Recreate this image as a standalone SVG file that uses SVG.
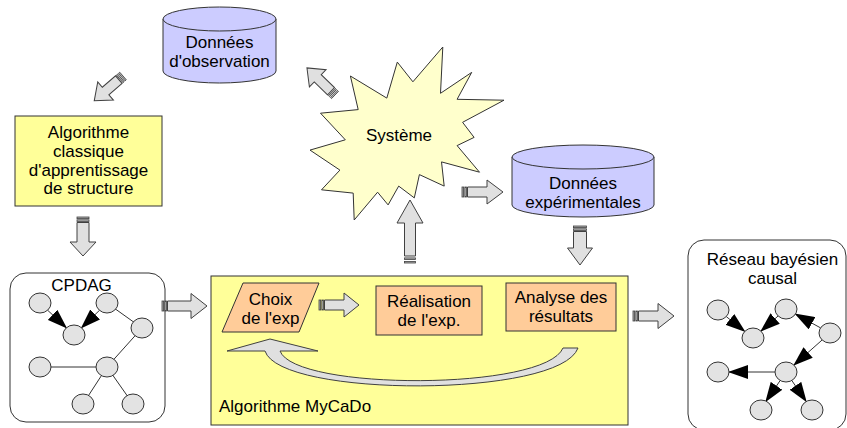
<svg xmlns="http://www.w3.org/2000/svg" width="847" height="428" viewBox="0 0 847 428">
<style>
  text { font-family: "Liberation Sans", Arial, sans-serif; font-size: 17px; fill: #000; }
  .c { text-anchor: middle; }
  .ln { stroke: #333; stroke-width: 1; fill: none; }
  .cyl { fill: #CCCCFF; stroke: #333; stroke-width: 1; }
  .yel { fill: #FFFF99; stroke: #333; stroke-width: 1; }
  .org { fill: #FFCC99; stroke: #333; stroke-width: 1; }
  .rbox { fill: #FFFFFF; stroke: #333; stroke-width: 1; }
  .star { fill: #FFFFCC; stroke: #333; stroke-width: 1; }
  .node { fill: #E3E3E3; stroke: #333; stroke-width: 1; }
  .barrow { fill: #E0E0E0; stroke: #404040; stroke-width: 1; }
  .stripe { fill: #B0B0B0; stroke: #404040; stroke-width: 0.8; }
</style>
<defs>
  <marker id="tri" markerUnits="userSpaceOnUse" markerWidth="20" markerHeight="14" refX="19" refY="7" orient="auto">
    <path d="M0,0 L20,7 L0,14 Z" fill="#000"/>
  </marker>
</defs>

<g id="donnees-observation">
  <path class="cyl" d="M163,19 V71 A56.5,12 0 0 0 276,71 V19 Z"/>
  <ellipse class="cyl" cx="219.5" cy="19" rx="56.5" ry="12" fill="#D6D6FF"/>
  <text class="c" x="219.5" y="48">Données</text>
  <text class="c" x="219.5" y="67">d'observation</text>
</g>

<g id="systeme">
  <polygon class="star" points="412.9,81.8 442.8,47 440.5,93.3 471.7,72.4 457.1,99.3 504,100.2 462.6,122.3 474.1,137.4 457.1,145.6 479.5,172.2 441.5,161.9 444.2,186.1 419.4,174.6 414.3,197.9 398.7,186.1 388.1,204.9 377.6,192.2 354.2,220 353.2,193.1 321.5,189.8 339.9,170.1 310,150.1 345.3,139.8 320.5,113.2 358.2,109.6 350.4,76 386.8,98.1 397.3,62.1"/>
  <text class="c" x="399" y="141">Système</text>
</g>

<g id="donnees-experimentales">
  <path class="cyl" d="M512,157 V205 A71,12 0 0 0 654,205 V157 Z"/>
  <ellipse class="cyl" cx="583" cy="157" rx="71" ry="12" fill="#D6D6FF"/>
  <text class="c" x="583" y="189">Données</text>
  <text class="c" x="583" y="208">expérimentales</text>
</g>

<g id="algo-classique">
  <rect class="yel" x="15" y="116" width="147" height="90"/>
  <text class="c" x="88.5" y="138">Algorithme</text>
  <text class="c" x="88.5" y="157">classique</text>
  <text class="c" x="88.5" y="175.5">d'apprentissage</text>
  <text class="c" x="88.5" y="194">de structure</text>
</g>

<g id="cpdag">
  <rect class="rbox" x="10" y="273" width="155" height="149" rx="16"/>
  <text class="c" x="81.5" y="290.5">CPDAG</text>
  <line class="ln" x1="107" y1="303" x2="142" y2="328"/>
  <line class="ln" x1="142" y1="328" x2="107" y2="367"/>
  <line class="ln" x1="40" y1="367" x2="107" y2="367"/>
  <line class="ln" x1="107" y1="367" x2="83" y2="404"/>
  <line class="ln" x1="107" y1="367" x2="133" y2="404"/>
  <line class="ln" x1="47.6" y1="310.2" x2="66.4" y2="327.8" marker-end="url(#tri)"/>
  <line class="ln" x1="99.5" y1="310.3" x2="81.5" y2="327.7" marker-end="url(#tri)"/>
  <ellipse class="node" cx="40" cy="303" rx="11" ry="10"/>
  <ellipse class="node" cx="107" cy="303" rx="11" ry="10"/>
  <ellipse class="node" cx="74" cy="335" rx="11" ry="10"/>
  <ellipse class="node" cx="142" cy="328" rx="11" ry="10"/>
  <ellipse class="node" cx="40" cy="367" rx="11" ry="10"/>
  <ellipse class="node" cx="107" cy="367" rx="11" ry="10"/>
  <ellipse class="node" cx="83" cy="404" rx="11" ry="10"/>
  <ellipse class="node" cx="133" cy="404" rx="11" ry="10"/>
</g>

<g id="mycado">
  <rect class="yel" x="211" y="276" width="417" height="149"/>
  <text x="219" y="412">Algorithme MyCaDo</text>
</g>

<g id="choix">
  <polygon class="org" points="243,283 319,283 299,332 222,332"/>
  <text class="c" x="270.5" y="304.5">Choix</text>
  <text class="c" x="270.5" y="324">de l'exp</text>
</g>

<g id="realisation">
  <rect class="org" x="376" y="286" width="106" height="49"/>
  <text class="c" x="429" y="307">Réalisation</text>
  <text class="c" x="429" y="326">de l'exp.</text>
</g>

<g id="analyse">
  <rect class="org" x="506" y="283" width="110" height="48"/>
  <text class="c" x="561" y="302.5">Analyse des</text>
  <text class="c" x="561" y="321.5">résultats</text>
</g>

<g id="reseau-causal">
  <rect class="rbox" x="688" y="240" width="158" height="190" rx="16"/>
  <text class="c" x="772.5" y="264.5">Réseau bayésien</text>
  <text class="c" x="772.5" y="283.5">causal</text>
  <line class="ln" x1="726.3" y1="316.6" x2="744.7" y2="331.4" marker-end="url(#tri)"/>
  <line class="ln" x1="778.1" y1="316" x2="760.9" y2="331.1" marker-end="url(#tri)"/>
  <line class="ln" x1="820.6" y1="327.9" x2="795.4" y2="314.1" marker-end="url(#tri)"/>
  <line class="ln" x1="822.1" y1="340" x2="793.9" y2="365" marker-end="url(#tri)"/>
  <line class="ln" x1="775" y1="372" x2="729" y2="372" marker-end="url(#tri)"/>
  <line class="ln" x1="780.2" y1="380.5" x2="765.8" y2="401.5" marker-end="url(#tri)"/>
  <line class="ln" x1="791.8" y1="380.5" x2="806.2" y2="401.5" marker-end="url(#tri)"/>
  <ellipse class="node" cx="718" cy="310" rx="11" ry="10"/>
  <ellipse class="node" cx="786" cy="309" rx="11" ry="10"/>
  <ellipse class="node" cx="753" cy="338" rx="11" ry="10"/>
  <ellipse class="node" cx="830" cy="333" rx="11" ry="10"/>
  <ellipse class="node" cx="718" cy="372" rx="11" ry="10"/>
  <ellipse class="node" cx="786" cy="372" rx="11" ry="10"/>
  <ellipse class="node" cx="761" cy="410" rx="11" ry="10"/>
  <ellipse class="node" cx="812" cy="410" rx="11" ry="10"/>
</g>

<g id="connectors">
  <g id="a1" transform="translate(123,76) rotate(139.2)">
    <rect class="stripe" x="0" y="-5" width="1.6" height="10"/>
    <rect class="stripe" x="2.8" y="-5" width="1.6" height="10"/>
    <path class="barrow" d="M5.5,-5 H23 V-12 L38,0 L23,12 V5 H5.5 Z"/>
  </g>
  <g id="a2" transform="translate(335,95) rotate(-136)">
    <rect class="stripe" x="0" y="-5" width="1.6" height="10"/>
    <rect class="stripe" x="2.8" y="-5" width="1.6" height="10"/>
    <path class="barrow" d="M5.5,-5 H24 V-12 L39,0 L24,12 V5 H5.5 Z"/>
  </g>
  <g id="a3" transform="translate(462,192)">
    <rect class="stripe" x="0" y="-5" width="1.6" height="10"/>
    <rect class="stripe" x="2.8" y="-5" width="1.6" height="10"/>
    <path class="barrow" d="M5.5,-5 H25 V-12 L41,0 L25,12 V5 H5.5 Z"/>
  </g>
  <g id="a4" transform="translate(410,263) rotate(-90)">
    <rect class="stripe" x="0" y="-5.5" width="1.6" height="11"/>
    <rect class="stripe" x="3.5" y="-5.5" width="1.6" height="11"/>
    <path class="barrow" d="M7,-5.5 H40 V-13 L63,0 L40,13 V5.5 H7 Z"/>
  </g>
  <g id="a5" transform="translate(580,226) rotate(90)">
    <rect class="stripe" x="0" y="-6.5" width="1.6" height="13"/>
    <rect class="stripe" x="2.8" y="-6.5" width="1.6" height="13"/>
    <path class="barrow" d="M5.5,-6.5 H22 V-12.5 L39,0 L22,12.5 V6.5 H5.5 Z"/>
  </g>
  <g id="a6" transform="translate(83,217) rotate(90)">
    <rect class="stripe" x="0" y="-6" width="1.6" height="12"/>
    <rect class="stripe" x="2.8" y="-6" width="1.6" height="12"/>
    <path class="barrow" d="M5.5,-6 H25 V-13 L39,0 L25,13 V6 H5.5 Z"/>
  </g>
  <g id="a7" transform="translate(162,306)">
    <rect class="stripe" x="0" y="-5" width="1.6" height="10"/>
    <rect class="stripe" x="2.8" y="-5" width="1.6" height="10"/>
    <path class="barrow" d="M5.5,-5 H29 V-12.5 L45,0 L29,12.5 V5 H5.5 Z"/>
  </g>
  <g id="a8" transform="translate(319,305)">
    <rect class="stripe" x="0" y="-5" width="1.6" height="10"/>
    <rect class="stripe" x="2.8" y="-5" width="1.6" height="10"/>
    <path class="barrow" d="M5.5,-5 H25 V-12 L40,0 L25,12 V5 H5.5 Z"/>
  </g>
  <g id="a9" transform="translate(633,316)">
    <rect class="stripe" x="0" y="-5" width="1.6" height="10"/>
    <rect class="stripe" x="2.8" y="-5" width="1.6" height="10"/>
    <path class="barrow" d="M5.5,-5 H25 V-12.5 L41,0 L25,12.5 V5 H5.5 Z"/>
  </g>
  <path id="loop" class="barrow" d="M227,351 L270,339 L318,351 L280,351 C295,391 545,391 563,348 L578,348 C560,398 280,398 265,351 Z"/>
</g>
</svg>
